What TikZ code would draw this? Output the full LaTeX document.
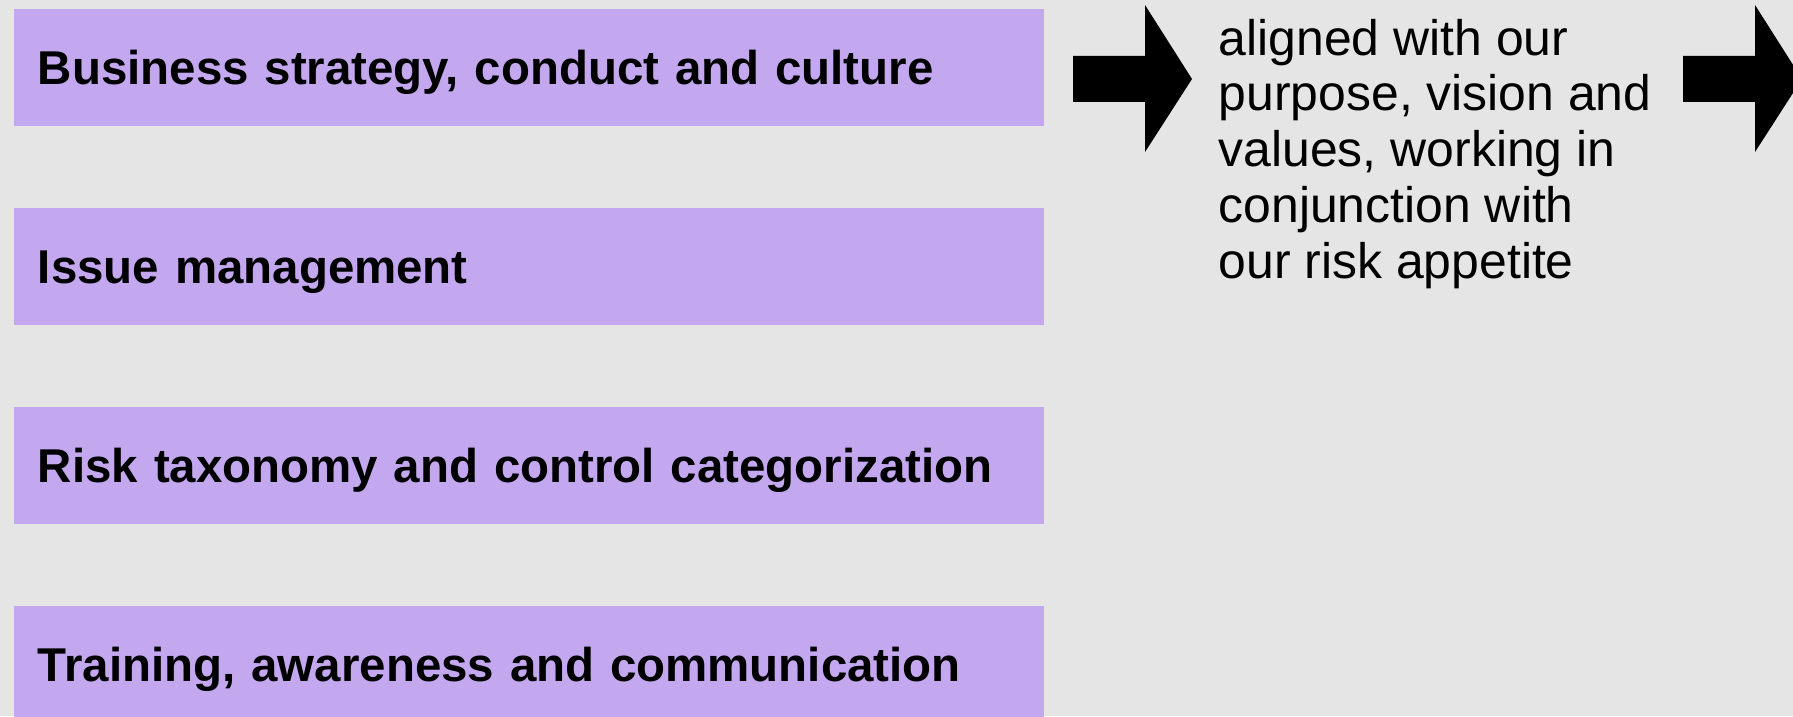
\documentclass[tikz,border=0pt]{standalone}
\usepackage{fontspec}
\setmainfont{Liberation Sans}
\usetikzlibrary{positioning}

\begin{document}
\begin{tikzpicture}[node distance=0.805cm,
	topicbox/.style={fill=boxColor, inner xsep=0.24cm, inner ysep=0pt, text width=9.82cm, minimum height=1.17cm, align=left, text height=0.34cm, text depth=0pt, font=\fontsize{13.5}{16}\selectfont\bfseries},
	sidetext/.style={anchor=base west, inner sep=0pt, align=left, font=\fontsize{14.2}{15.86}\selectfont}]

	\definecolor{boxColor}{HTML}{C3A8F0};
	\definecolor{bgColor}{HTML}{E5E5E5};

	\def\Xmax{17.93};
	\def\Ymin{-7.16};
	\def\arrowY{-0.56};

	% Background
	\fill[bgColor] (0,0) rectangle (\Xmax,\Ymin);
	\useasboundingbox (0,0) rectangle (\Xmax,\Ymin);

	% Topic boxes
	\node[topicbox] (strategyBox) at (5.29,-0.675) {Business strategy, conduct and culture};
	\node[topicbox, below=of strategyBox] (issueBox) {Issue management};
	\node[topicbox, below=of issueBox] (taxonomyBox) {Risk taxonomy and control categorization};
	\node[topicbox, below=of taxonomyBox] (trainingBox) {Training, awareness and communication};

	% Block arrows
	\foreach \ax in {10.73, 16.83}
		\fill[black] (\ax,\arrowY) -- ++(0.72,0) -- ++(0,0.51) -- ++(0.47,-0.74)
			-- ++(-0.47,-0.73) -- ++(0,0.50) -- ++(-0.72,0) -- cycle;

	% Description (base = last line)
	\node[sidetext] (alignText) at (12.18,-2.78)
		{aligned with our\\purpose, vision and\\values, working in\\conjunction with\\our risk appetite};

\end{tikzpicture}
\end{document}
